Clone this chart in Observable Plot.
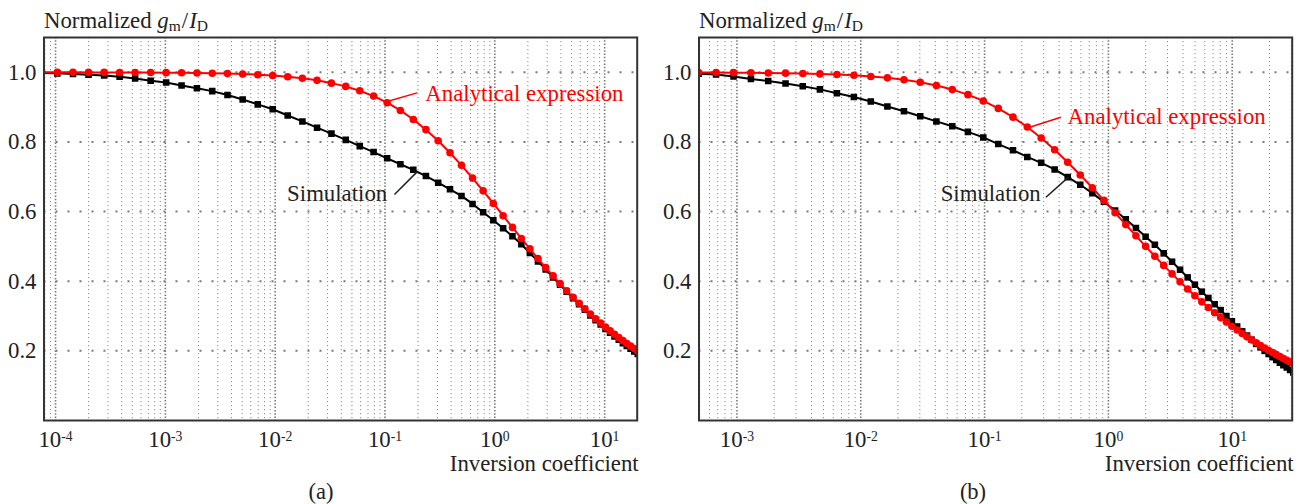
<!DOCTYPE html>
<html>
<head>
<meta charset="utf-8">
<script src="https://cdn.jsdelivr.net/npm/d3@7"></script>
<script src="https://cdn.jsdelivr.net/npm/@observablehq/plot@0.6"></script>
<style>
  body { margin: 0; background: #fff; }
  #wrap { position: relative; width: 1305px; height: 504px; overflow: hidden;
          font-family: "Liberation Serif", "Times New Roman", serif; color: #222; }
  .panel { position: absolute; top: 0; }
  .title { position: absolute; top: 10px; font-size: 22.8px; line-height: 22px; white-space: nowrap; }
  .title sub { font-size: 0.68em; vertical-align: -0.17em; line-height: 0; }
  .title .sl { margin: 0 1px; }
  .cap { position: absolute; top: 481px; width: 100px; text-align: center; font-size: 22.5px; line-height: 22px; }
</style>
</head>
<body>
<div id="wrap">
  <div class="title" style="left:44px">Normalized <i>g</i><sub>m</sub><span class="sl">/</span><i>I</i><sub>D</sub></div>
  <div class="title" style="left:699px">Normalized <i>g</i><sub>m</sub><span class="sl">/</span><i>I</i><sub>D</sub></div>
  <div class="cap" style="left:271px">(a)</div>
  <div class="cap" style="left:923px">(b)</div>
</div>
<script>
// ---------- Panel (a) data ----------
const icA = [7.49e-5, 1.038e-4, 1.442e-4, 1.997e-4, 2.769e-4, 3.833e-4, 5.308e-4, 7.35e-4, 1.016e-3, 1.405e-3,
  1.938e-3, 2.672e-3, 3.68e-3, 5.058e-3, 6.937e-3, 9.505e-3, 0.0130, 0.0177, 0.02406, 0.03254,
  0.0439, 0.05895, 0.07874, 0.1046, 0.1381, 0.1811, 0.2360, 0.3049, 0.3909, 0.4973,
  0.6268, 0.7829, 0.9696, 1.1905, 1.4479, 1.745, 2.0854, 2.4718, 2.906, 3.390,
  3.927, 4.514, 5.157, 5.855, 6.606, 7.415, 8.281, 9.204, 10.182, 11.215,
  12.306, 13.454, 14.658, 15.918, 17.236, 18.607, 20.036];
const analyticA = [0.9999, 0.9999, 0.9999, 0.9998, 0.9997, 0.9996, 0.9995, 0.9993, 0.9990, 0.9986,
  0.9981, 0.9973, 0.9963, 0.9950, 0.9932, 0.9907, 0.9873, 0.9829, 0.9770, 0.9689,
  0.9596, 0.9471, 0.9317, 0.9128, 0.8905, 0.8646, 0.8353, 0.8033, 0.7689, 0.7329,
  0.6962, 0.6595, 0.6233, 0.5882, 0.5546, 0.5229, 0.4931, 0.4652, 0.4393, 0.4153,
  0.3931, 0.3728, 0.3539, 0.3366, 0.3207, 0.3059, 0.2923, 0.2797, 0.2681, 0.2573,
  0.2473, 0.2380, 0.2293, 0.2212, 0.2136, 0.2065, 0.1998];
const simulationA = [0.998, 0.997, 0.995, 0.993, 0.991, 0.987, 0.982, 0.976, 0.971, 0.962,
  0.954, 0.946, 0.935, 0.922, 0.908, 0.894, 0.876, 0.859, 0.841, 0.824,
  0.806, 0.788, 0.771, 0.753, 0.736, 0.720, 0.702, 0.683, 0.664, 0.645,
  0.622, 0.598, 0.575, 0.552, 0.529, 0.506, 0.481, 0.457, 0.434, 0.411,
  0.390, 0.370, 0.351, 0.334, 0.318, 0.302, 0.288, 0.276, 0.263, 0.252,
  0.241, 0.232, 0.222, 0.214, 0.206, 0.198, 0.191];

// ---------- Panel (b) data ----------
const icB = [3.538e-4, 4.903e-4, 6.786e-4, 9.388e-4, 1.2976e-3, 1.790e-3, 2.470e-3, 3.403e-3, 4.680e-3, 6.421e-3,
  8.802e-3, 0.012052, 0.016413, 0.02233, 0.030227, 0.040816, 0.054868, 0.073376, 0.09765, 0.12905,
  0.16958, 0.22131, 0.28656, 0.36804, 0.46927, 0.59256, 0.74192, 0.92100, 1.13331, 1.38126,
  1.66839, 1.99793, 2.37277, 2.79508, 3.26662, 3.79015, 4.36551, 4.99523, 5.67869, 6.41700,
  7.21127, 8.06316, 8.97320, 9.93725, 10.95683, 12.03348, 13.16768, 14.35789, 15.60384, 16.90797,
  18.26537, 19.68111, 21.15007, 22.67312, 24.25237, 25.88917, 27.58424, 29.32959, 31.12837];
const analyticB = [0.9996, 0.9995, 0.9993, 0.9991, 0.9987, 0.9982, 0.9976, 0.9966, 0.9954, 0.9937,
  0.9914, 0.9882, 0.9841, 0.9786, 0.9715, 0.9622, 0.9504, 0.9358, 0.9178, 0.8963,
  0.8713, 0.8428, 0.8114, 0.7775, 0.7418, 0.7053, 0.6685, 0.6321, 0.5966, 0.5627,
  0.5305, 0.5002, 0.4718, 0.4454, 0.4210, 0.3984, 0.3776, 0.3584, 0.3407, 0.3245,
  0.3095, 0.2956, 0.2827, 0.2709, 0.2599, 0.2497, 0.2402, 0.2314, 0.2231, 0.2154,
  0.2082, 0.2014, 0.1951, 0.1891, 0.1835, 0.1782, 0.1731, 0.1684, 0.1639];
const simulationB = [0.997, 0.996, 0.994, 0.988, 0.981, 0.975, 0.968, 0.960, 0.951, 0.940,
  0.929, 0.916, 0.902, 0.888, 0.874, 0.859, 0.845, 0.829, 0.813, 0.794,
  0.776, 0.757, 0.740, 0.721, 0.699, 0.677, 0.653, 0.628, 0.603, 0.578,
  0.553, 0.528, 0.505, 0.480, 0.456, 0.433, 0.411, 0.390, 0.370, 0.352,
  0.334, 0.317, 0.300, 0.285, 0.270, 0.256, 0.244, 0.232, 0.220, 0.210,
  0.200, 0.191, 0.182, 0.174, 0.166, 0.159, 0.152, 0.145, 0.138];

// ---------- axes / labels ----------
const yTicks = [0.2, 0.4, 0.6, 0.8, 1.0];
const xTicksA = [1e-4, 1e-3, 1e-2, 1e-1, 1e0, 1e1];
const xTicksB = [1e-3, 1e-2, 1e-1, 1e0, 1e1];
const xLabel = "Inversion coefficient";
const seriesNames = ["Analytical expression", "Simulation"];

// annotation anchors in data units (curve point -> leader end -> label)
const annotA = [
  {label: seriesNames[0], color: "red",  x1: 0.101, y1: 0.915, x2: 0.196, y2: 0.941, tx: 0.233, ty: 0.939, anchor: "start"},
  {label: seriesNames[1], color: "#222", x1: 0.196, y1: 0.714, x2: 0.122, y2: 0.649, tx: 0.1047, ty: 0.652, anchor: "end"}
];
const annotB = [
  {label: seriesNames[0], color: "red",  x1: 0.225, y1: 0.841, x2: 0.413, y2: 0.871, tx: 0.468, ty: 0.872, anchor: "start"},
  {label: seriesNames[1], color: "#222", x1: 0.476, y1: 0.699, x2: 0.313, y2: 0.641, tx: 0.284, ty: 0.652, anchor: "end"}
];

const FS = 22.8;

function gridValues(lo, hi) {
  const minor = [], major = [];
  for (let e = -6; e <= 3; e++) {
    for (let m = 1; m <= 9; m++) {
      const v = m * Math.pow(10, e);
      if (v < lo || v > hi) continue;
      (m === 1 ? major : minor).push(v);
    }
  }
  return {minor, major};
}

function makePanel({ic, ana, sim, domain, xticks, annot}) {
  const data = ic.map((x, i) => ({ic: x, ana: ana[i], sim: sim[i]}));
  const g = gridValues(domain[0], domain[1]);
  const marks = [
    Plot.ruleX(g.minor, {stroke: "#8c8c8c", strokeWidth: 1, strokeDasharray: "1.2,2.8"}),
    Plot.ruleX(g.major, {stroke: "#7a7a7a", strokeWidth: 1.6, strokeDasharray: "1.5,1.8"}),
    Plot.ruleY(yTicks, {stroke: "#7a7a7a", strokeWidth: 2, strokeDasharray: "2,10"}),
    Plot.axisX({ticks: xticks, tickFormat: d => "10^" + Math.round(Math.log10(d)), tickSize: 0, tickPadding: 10, label: null}),
    Plot.axisY({ticks: yTicks, tickFormat: d3.format(".1f"), tickSize: 0, tickPadding: 7.5, label: null}),
    Plot.text([xLabel], {frameAnchor: "bottom-right", text: d => d, textAnchor: "end", lineAnchor: "bottom",
                         dy: 50.7, dx: 1.5, fontSize: FS, fill: "#222"}),
    Plot.line(data, {x: "ic", y: "sim", stroke: "black", strokeWidth: 2, clip: true}),
    Plot.dot(data, {x: "ic", y: "sim", symbol: "square", r: 3.7, fill: "black", clip: true}),
    Plot.line(data, {x: "ic", y: "ana", stroke: "red", strokeWidth: 2, clip: true}),
    Plot.dot(data, {x: "ic", y: "ana", r: 3.8, fill: "red", clip: true}),
    Plot.frame({stroke: "#333", strokeWidth: 2}),
    Plot.link(annot, {x1: "x1", y1: "y1", x2: "x2", y2: "y2", stroke: "color", strokeWidth: 1.5}),
    ...annot.map(a => Plot.text([a], {x: "tx", y: "ty", text: "label", fill: "color", textAnchor: a.anchor,
                                      lineAnchor: "middle", fontSize: FS}))
  ];
  const svg = Plot.plot({
    width: 650, height: 478,
    marginLeft: 43.5, marginRight: 13.3, marginTop: 37, marginBottom: 58,
    style: {fontFamily: "'Liberation Serif', 'Times New Roman', serif", fontSize: FS + "px", color: "#222",
            background: "transparent", overflow: "visible"},
    x: {type: "log", domain},
    y: {domain: [0, 1.1]},
    color: {type: "identity"},
    marks
  });
  // superscript exponents on x tick labels
  d3.select(svg).selectAll('g[aria-label="x-axis tick label"] text').each(function () {
    const t = d3.select(this);
    const s = t.text();
    const parts = s.split("^");
    if (parts.length !== 2) return;
    t.text(null);
    t.append("tspan").text(parts[0]);
    t.append("tspan").attr("dy", "-0.45em").attr("font-size", "0.6em").text(parts[1]);
  });
  return svg;
}

const wrap = document.getElementById("wrap");
const pa = makePanel({ic: icA, ana: analyticA, sim: simulationA, domain: [7.85e-5, 19.8], xticks: xTicksA, annot: annotA});
pa.classList.add("panel"); pa.style.left = "0px";
wrap.appendChild(pa);
const pb = makePanel({ic: icB, ana: analyticB, sim: simulationB, domain: [4.94e-4, 30.5], xticks: xTicksB, annot: annotB});
pb.classList.add("panel"); pb.style.left = "655px";
wrap.appendChild(pb);
</script>
</body>
</html>
